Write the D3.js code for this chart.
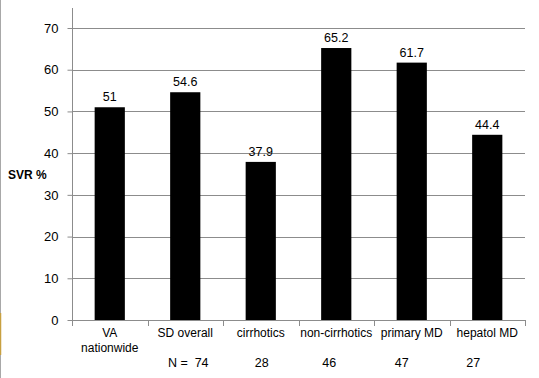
<!DOCTYPE html>
<html><head><meta charset="utf-8">
<script src="https://cdn.jsdelivr.net/npm/d3@7"></script>
<style>body{margin:0;background:#fff}svg{display:block;font-family:"Liberation Sans",Arial,sans-serif}text{white-space:pre}</style>
</head><body><svg id="c" width="539" height="378"></svg>
<script>
const categories = [["VA","nationwide"],["SD overall"],["cirrhotics"],["non-cirrhotics"],["primary MD"],["hepatol MD"]];
const values = [51, 54.6, 37.9, 65.2, 61.7, 44.4];
const valueLabels = ["51","54.6","37.9","65.2","61.7","44.4"];
const nLabels = ["", "N =  74", "28", "46", "47", "27"];
const nOffsets = [0, 3, 1, -7, -10, -14];
const yTicks = [0,10,20,30,40,50,60,70];

const svg = d3.select("#c");
const x = d3.scaleBand().domain(d3.range(categories.length)).range([72, 525]).paddingInner(0.6).paddingOuter(0.3);
const xOuter = d3.scaleBand().domain(d3.range(categories.length)).range([72, 525]);
const y = d3.scaleLinear().domain([0,70]).range([320, 28]);

// left border
svg.append("line").attr("x1",0.5).attr("x2",0.5).attr("y1",0).attr("y2",378).attr("stroke","#a8a8a8");
svg.append("line").attr("x1",0.5).attr("x2",0.5).attr("y1",313).attr("y2",355).attr("stroke","#c8a040").attr("stroke-width",1.5);

// gridlines
svg.append("g").selectAll("line").data(yTicks.filter(d=>d>0)).join("line")
  .attr("x1",72).attr("x2",525).attr("y1",d=>Math.round(y(d))+0.5).attr("y2",d=>Math.round(y(d))+0.5)
  .attr("stroke","#8c8c8c");

// y axis
const ya = svg.append("g").attr("transform","translate(72.5,0)")
  .call(d3.axisLeft(y).tickValues(yTicks).tickSize(5).tickPadding(9).tickFormat(d3.format("d")));
ya.select(".domain").remove();
ya.selectAll(".tick line").attr("stroke","#8c8c8c");
ya.selectAll(".tick text").attr("font-size","13px").attr("fill","#000").attr("font-family","Liberation Sans, Arial, sans-serif");
svg.append("line").attr("x1",72.5).attr("x2",72.5).attr("y1",8).attr("y2",320).attr("stroke","#8c8c8c");

// bars
svg.append("g").selectAll("rect").data(values).join("rect")
  .attr("x",(d,i)=>x(i)).attr("width",x.bandwidth())
  .attr("y",d=>y(d)).attr("height",d=>y(0)-y(d)).attr("fill","#000");

// value labels
svg.append("g").selectAll("text").data(values).join("text")
  .attr("x",(d,i)=>x(i)+x.bandwidth()/2).attr("y",d=>y(d)-6)
  .attr("text-anchor","middle").attr("font-size","12.5px").text((d,i)=>valueLabels[i]);

// x axis
svg.append("line").attr("x1",72).attr("x2",525).attr("y1",320.5).attr("y2",320.5).attr("stroke","#8c8c8c");
svg.append("g").selectAll("line").data(d3.range(categories.length+1)).join("line")
  .attr("x1",i=>Math.round(i<categories.length?xOuter(i):525)+0.5).attr("x2",i=>Math.round(i<categories.length?xOuter(i):525)+0.5)
  .attr("y1",320).attr("y2",326).attr("stroke","#8c8c8c");

// category labels
const cl = svg.append("g").selectAll("text").data(categories).join("text")
  .attr("text-anchor","middle").attr("font-size","12px");
cl.each(function(lines,i){
  const t = d3.select(this);
  lines.forEach((ln,j)=>t.append("tspan").attr("x",xOuter(i)+xOuter.bandwidth()/2).attr("y",337+j*15).text(ln));
});

// N labels
svg.append("g").selectAll("text").data(nLabels).join("text")
  .attr("x",(d,i)=>xOuter(i)+xOuter.bandwidth()/2+nOffsets[i]).attr("y",367)
  .attr("text-anchor","middle").attr("font-size","12.5px").text(d=>d);

// y title
svg.append("text").attr("x",8).attr("y",179).attr("font-size","12px").attr("font-weight","bold").text("SVR %");
</script></body></html>
